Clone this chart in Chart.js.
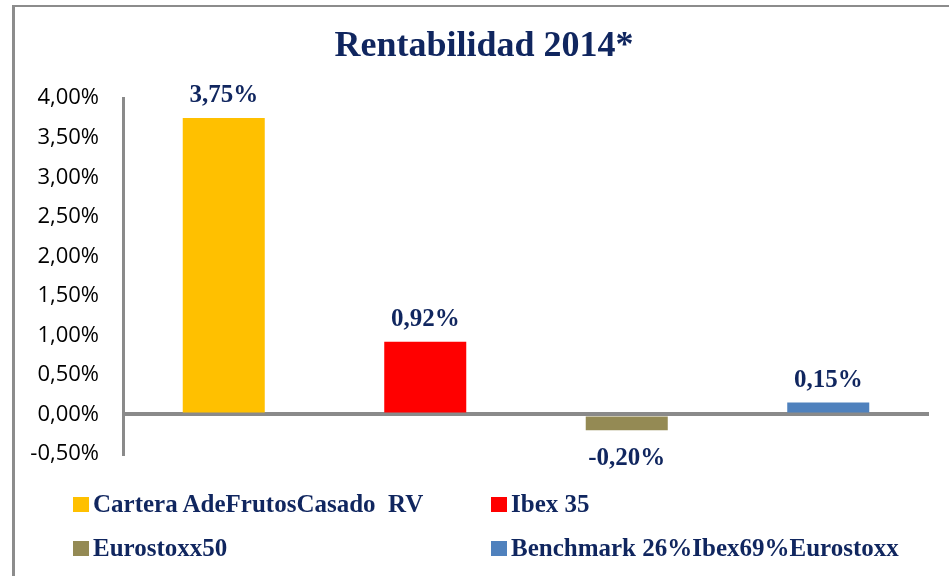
<!DOCTYPE html>
<html>
<head>
<meta charset="utf-8">
<script src="https://cdn.jsdelivr.net/npm/chart.js@4"></script>
<style>
  body { margin: 0; background: #fff; }
  #wrap { position: relative; width: 949px; height: 576px; overflow: hidden; }
  #frame { position: absolute; left: 12px; top: 5px; width: 960px; height: 600px;
           border-top: 2px solid #8c8c8c; border-left: 3px solid #8c8c8c; }
  #myChart { position: absolute; left: 0; top: 0; }
  #legend { position: absolute; left: 73px; top: 489px; display: grid;
            grid-template-columns: 418px auto; row-gap: 14px;
            font: bold 25px 'Liberation Serif', 'Times New Roman', serif;
            line-height: 30px; color: #10265f; white-space: pre; }
  #legend .box { display: inline-block; width: 16px; height: 15px; margin-right: 4px; vertical-align: baseline; }
</style>
</head>
<body>
<div id="wrap">
  <div id="frame"></div>
  <canvas id="myChart" width="949" height="576"></canvas>
  <div id="legend"></div>
</div>
<script>
const categories = ['Cartera AdeFrutosCasado  RV', 'Ibex 35', 'Eurostoxx50', 'Benchmark 26%Ibex69%Eurostoxx']
const returns = [3.75, 0.92, -0.20, 0.15]
const yMin = -0.5
const yMax = 4.0
const yStep = 0.5

const colors = ['#FFC000', '#FF0000', '#948A54', '#4F81BD']
const navy = '#10265f'
const axisGray = '#8a8a8a'

const pct = v => v.toFixed(2).replace('.', ',') + '%'

// one dataset per category so each gets its own legend entry
const datasets = categories.map((name, i) => ({
    label: name,
    data: categories.map((_, j) => j === i ? returns[i] : null),
    backgroundColor: colors[i],
    skipNull: true,
    barPercentage: 0.407,
    categoryPercentage: 1
}))

const valueLabels = {
    id: 'valueLabels',
    afterDatasetsDraw(chart) {
        const ctx = chart.ctx
        ctx.save()
        ctx.font = 'bold 25px "Liberation Serif", "Times New Roman", serif'
        ctx.fillStyle = navy
        ctx.textAlign = 'center'
        ctx.textBaseline = 'alphabetic'
        chart.data.datasets.forEach((ds, i) => {
            chart.getDatasetMeta(i).data.forEach((bar, j) => {
                const v = ds.data[j]
                if (v === null) return
                const y = v >= 0 ? bar.y - 16 : bar.y + 35
                ctx.fillText(pct(v), bar.x, y)
            })
        })
        ctx.restore()
    }
}

// the left padding only serves to centre the title, so let the tick labels use it
const unclipTicks = {
    id: 'unclipTicks',
    afterLayout(chart) {
        chart.scales.y.left = 0
    }
}

const htmlLegend = {
    id: 'htmlLegend',
    afterUpdate(chart) {
        const box = document.getElementById('legend')
        box.innerHTML = ''
        chart.data.datasets.forEach(ds => {
            const item = document.createElement('div')
            const sw = document.createElement('span')
            sw.className = 'box'
            sw.style.background = ds.backgroundColor
            item.appendChild(sw)
            item.appendChild(document.createTextNode(ds.label))
            box.appendChild(item)
        })
    }
}

const ctx = document.getElementById('myChart')
new Chart(ctx, {
    type: 'bar',
    data: { labels: categories, datasets: datasets },
    options: {
        responsive: false,
        animation: false,
        layout: { padding: { left: 39, right: 20, top: 0, bottom: 122 } },
        plugins: {
            legend: { display: false },
            tooltip: { enabled: false },
            title: {
                display: true,
                text: 'Rentabilidad 2014*',
                color: navy,
                font: { family: '"Liberation Serif", "Times New Roman", serif', size: 36, weight: 'bold' },
                padding: { top: 25, bottom: 30 }
            }
        },
        scales: {
            x: { display: false },
            y: {
                min: yMin,
                max: yMax,
                z: 1,
                afterFit(scale) { scale.width = 84 },
                ticks: {
                    stepSize: yStep,
                    padding: 24,
                    color: '#000',
                    font: { family: '"Open Sans", sans-serif', size: 22 },
                    callback: v => pct(v)
                },
                grid: {
                    drawTicks: false,
                    lineWidth: 4,
                    color: c => c.tick && c.tick.value === 0 ? axisGray : 'rgba(0,0,0,0)'
                },
                border: { display: true, color: axisGray, width: 3 }
            }
        }
    },
    plugins: [valueLabels, unclipTicks, htmlLegend]
})
</script>
</body>
</html>
